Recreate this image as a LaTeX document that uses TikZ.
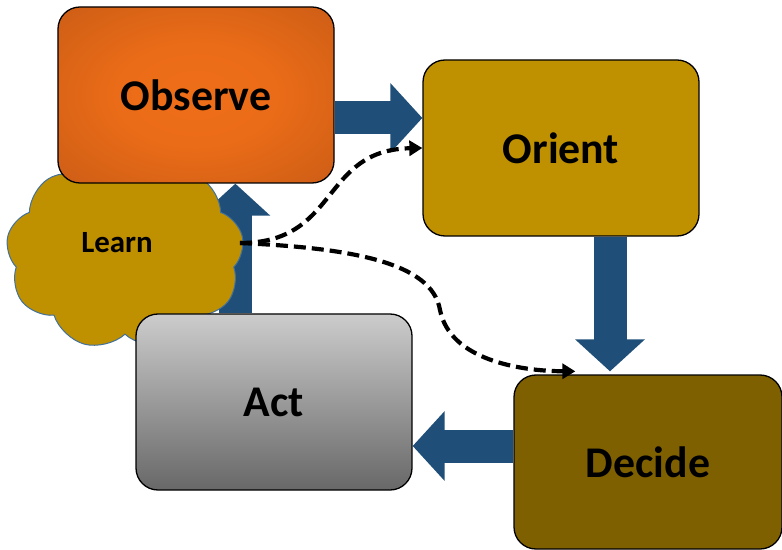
\documentclass[tikz,border=0pt]{standalone}
\usepackage{fontspec}
\setmainfont{Carlito}
\usetikzlibrary{arrows.meta,shapes.symbols,calc}

\definecolor{loopblue}{RGB}{31,78,121}
\definecolor{gold}{RGB}{191,144,0}
\definecolor{darkgold}{RGB}{127,96,0}
\definecolor{cloudline}{RGB}{65,113,156}
\definecolor{acttop}{RGB}{204,204,204}
\definecolor{actbot}{RGB}{104,104,104}

\pgfdeclareradialshading{obsglow}{\pgfpoint{0bp}{0bp}}{%
  color(0bp)=(rgb,255:red,238;green,110;blue,24);
  color(14bp)=(rgb,255:red,235;green,108;blue,24);
  color(36bp)=(rgb,255:red,204;green,93;blue,21);
  color(50bp)=(rgb,255:red,190;green,86;blue,20)}

\pgfdeclarelayer{background}
\pgfsetlayers{background,main}

\tikzset{
  stage/.style={draw=black, line width=1.3bp, rounded corners=22bp,
    minimum width=276bp, minimum height=176bp, inner sep=0pt,
    font=\bfseries\fontsize{44}{50}\selectfont},
  blockarrow/.style={draw=loopblue, line width=33bp,
    -{Triangle[width=68bp,length=32bp]}},
  learnlink/.style={draw=black, line width=4.2bp, dash pattern=on 12bp off 6bp,
    -{Triangle[width=15bp,length=13bp]}},
}

\begin{document}
\begin{tikzpicture}[x=1bp, y=-1bp]
    \useasboundingbox (0,0) rectangle (782,550);

    % learn cloud sits under the boxes
    \node[cloud, cloud puffs=9, cloud puff arc=115, draw=cloudline, line width=1bp,
          fill=gold, minimum width=238bp, minimum height=194bp, inner sep=0pt]
          (learn) at (125,253) {};
    \node[font=\bfseries\fontsize{31}{36}\selectfont] (learntext) at (117,243) {Learn};
    \coordinate (lout) at (240,243);

    \node[stage, shading=obsglow] (observe) at (196,95) {Observe};
    \node[stage, fill=gold] (orient) at (561,148) {Orient};
    \node[stage, fill=darkgold, minimum width=268bp, minimum height=174bp] (decide) at (648,462) {Decide};
    \node[stage, top color=acttop, bottom color=actbot] (act) at (274,402) {Act};

    \begin{pgfonlayer}{background}
    \draw[blockarrow] ($(observe.east)+(0,23)$) -- ($(observe.east -| orient.west)+(0,23)$);
    \draw[blockarrow] ($(orient.south)+(49,0)$) -- ($(orient.south |- decide.north)+(49,-3)$);
    \draw[blockarrow] ($(decide.west)+(0,-16)$) -- ($(decide.west -| act.east)+(0,-16)$);
    \draw[blockarrow] ($(act.north west)+(100,0)$) -- ($(act.north west |- observe.south)+(100,0)$);
    \end{pgfonlayer}

    \draw[learnlink] (lout) .. controls (340,243) and (320,150) .. (orient.west);
    \draw[learnlink] (lout) .. controls (350,248) and (432,262) .. (440,310)
        .. controls (450,360) and (520,371) .. ($(decide.north west)+(62,-3)$);

\end{tikzpicture}
\end{document}
